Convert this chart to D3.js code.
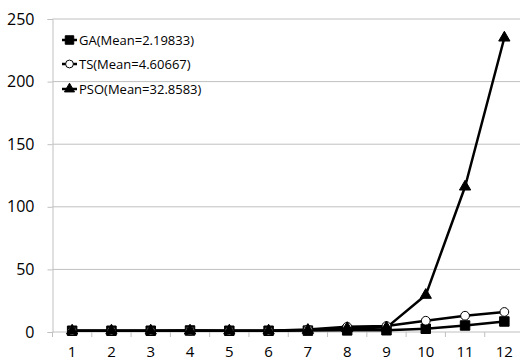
<!DOCTYPE html>
<html><head><meta charset="utf-8">
<script src="https://cdn.jsdelivr.net/npm/d3@7"></script>
<style>body{margin:0;background:#fff}svg{display:block}text{font-family:"Open Sans",sans-serif}</style>
</head><body><svg id="c" width="520" height="363"></svg>
<script>
const categories = [1,2,3,4,5,6,7,8,9,10,11,12];
const gaValues  = [1,1,1,1.2,1,1,1.1,1.3,1.4,2.6,5.2,8.4];
const tsValues  = [1,1,1,1.1,1,1,2,4.2,4.8,9,13,16];
const psoValues = [1,1,1,1,1,1,1.5,3,3.5,29.5,116,235];
const seriesNames = ["GA(Mean=2.19833)","TS(Mean=4.60667)","PSO(Mean=32.8583)"];
const yTicks = [0,50,100,150,200,250];

(function(){
const svg = d3.select("#c");
const mLeft = 52.5, mRight = 524, mTop = 19, mBottom = 332;
const x = d3.scaleBand().domain(categories).range([mLeft, mRight]);
const y = d3.scaleLinear().domain([0,250]).range([mBottom, mTop]);

// gridlines
svg.append("g").selectAll("line").data(yTicks.slice(1)).join("line")
  .attr("x1", mLeft).attr("x2", 520).attr("y1", d=>y(d)).attr("y2", d=>y(d))
  .attr("stroke", "#c0c0c0").attr("stroke-width", 1);

// y axis
const yAx = svg.append("g").attr("transform", `translate(${mLeft},0)`)
  .call(d3.axisLeft(y).tickValues(yTicks).tickSize(5).tickPadding(13));
yAx.select(".domain").attr("stroke", "#c0c0c0");
yAx.selectAll(".tick line").attr("stroke", "#c0c0c0");
yAx.selectAll("text").attr("font-size", 16).attr("fill", "#000").style("font-family","'Open Sans',sans-serif");

// x axis
const xAx = svg.append("g").attr("transform", `translate(0,${mBottom})`)
  .call(d3.axisBottom(x).tickSize(0).tickPadding(14));
xAx.select(".domain").attr("stroke", "#c0c0c0").attr("d", `M${mLeft},0H520`);
xAx.selectAll("text").attr("font-size", 15).attr("fill", "#000").style("font-family","'Open Sans',sans-serif");
svg.append("g").selectAll("line").data(categories).join("line")
  .attr("x1", d=>x(d)).attr("x2", d=>x(d)).attr("y1", mBottom).attr("y2", mBottom+5)
  .attr("stroke", "#c0c0c0");

const cx = d => x(d) + x.bandwidth()/2;
const series = [
  {name: seriesNames[0], values: gaValues, sym: d3.symbolSquare, size: 90, fill: "#000"},
  {name: seriesNames[1], values: tsValues, sym: d3.symbolCircle, size: 60, fill: "#fff"},
  {name: seriesNames[2], values: psoValues, sym: d3.symbolTriangle, size: 55, fill: "#000"}
];
const line = d3.line().x((d,i)=>cx(categories[i])).y(d=>y(d));

series.forEach(s => {
  svg.append("path").attr("d", line(s.values)).attr("fill","none")
    .attr("stroke","#000").attr("stroke-width",2.5).attr("stroke-linejoin","round");
});
series.forEach(s => {
  svg.append("g").selectAll("path").data(s.values).join("path")
    .attr("d", d3.symbol().type(s.sym).size(s.size))
    .attr("transform", (d,i)=>`translate(${cx(categories[i])},${y(d)})`)
    .attr("fill", s.fill).attr("stroke","#000").attr("stroke-width",1);
});

// legend
const legY = [40, 64, 89];
series.forEach((s,i) => {
  const g = svg.append("g").attr("transform", `translate(0,${legY[i]})`);
  g.append("line").attr("x1",62).attr("x2",77).attr("y1",0).attr("y2",0)
    .attr("stroke","#000").attr("stroke-width",2.5);
  g.append("path").attr("d", d3.symbol().type(s.sym).size(s.size*0.8))
    .attr("transform","translate(69.5,0)").attr("fill", s.fill).attr("stroke","#000");
  g.append("text").attr("x",79).attr("y",0).attr("dy","0.35em")
    .attr("font-size",13).attr("fill","#000").text(s.name);
});
})();
</script></body></html>
